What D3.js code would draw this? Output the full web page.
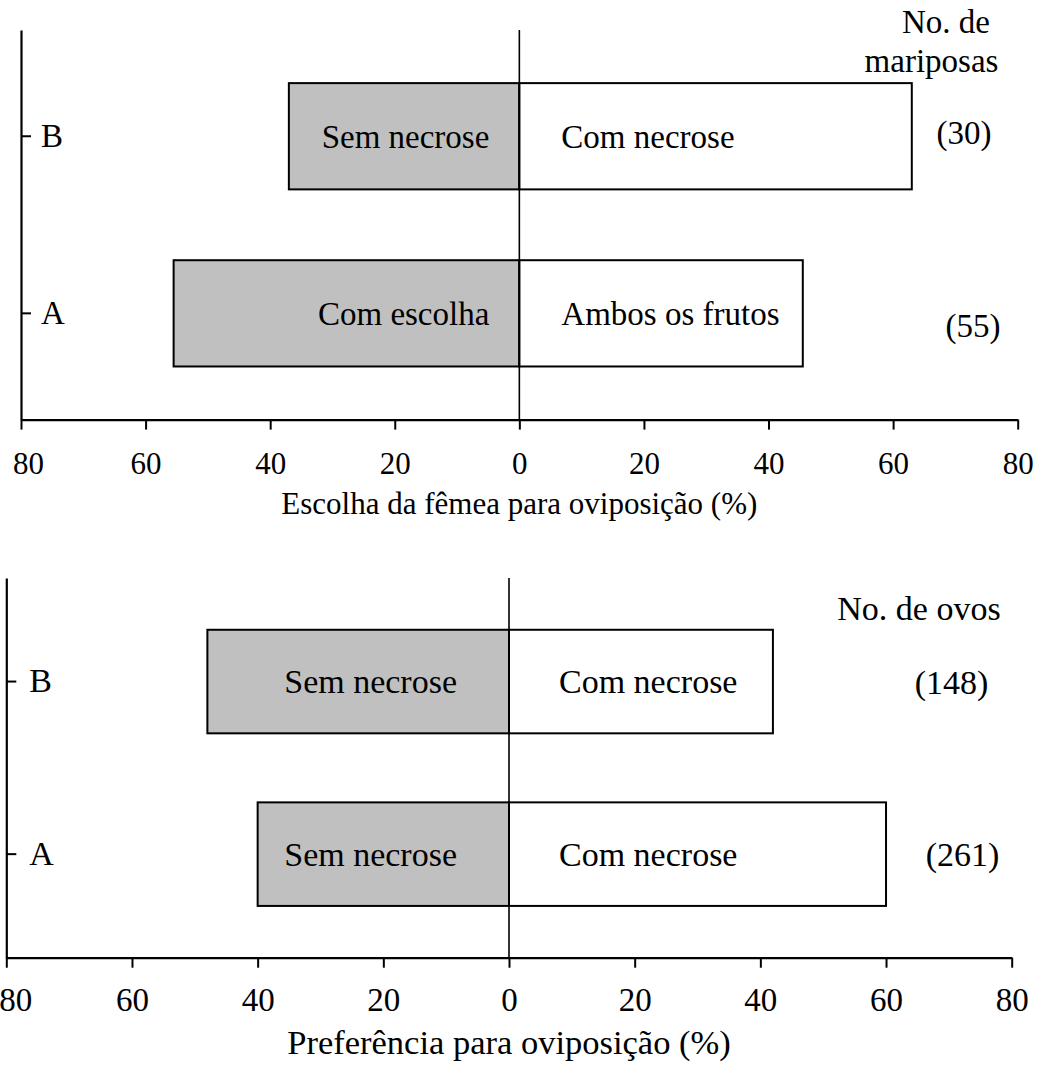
<!DOCTYPE html>
<html><head><meta charset="utf-8">
<script src="https://cdn.jsdelivr.net/npm/d3@7"></script>
<style>
body{margin:0;background:#fff}
svg{display:block}
text{font-family:"Liberation Serif","Times New Roman",serif;fill:#000}
</style>
</head><body><svg id="chart" width="1041" height="1070"></svg>
<script>
// ---- data ----
const categories = ["B", "A"];
const tickValues = [-80, -60, -40, -20, 0, 20, 40, 60, 80];

const topLeftValues = [37, 55.5];
const topRightValues = [63, 45.5];
const topLeftLabels = ["Sem necrose", "Com escolha"];
const topRightLabels = ["Com necrose", "Ambos os frutos"];
const topCounts = ["(30)", "(55)"];
const topHeader = ["No. de", "mariposas"];
const topTitle = "Escolha da fêmea para oviposição (%)";

const bottomLeftValues = [48, 40];
const bottomRightValues = [42, 60];
const bottomLeftLabels = ["Sem necrose", "Sem necrose"];
const bottomRightLabels = ["Com necrose", "Com necrose"];
const bottomCounts = ["(148)", "(261)"];
const bottomHeader = ["No. de ovos"];
const bottomTitle = "Preferência para oviposição (%)";

const svg = d3.select("#chart");

function drawPanel(o) {
  const g = svg.append("g");
  const x = d3.scaleLinear().domain([-80, 80]).range(o.xr);
  const y = d3.scaleBand().domain(categories).range(o.yr).paddingInner(0.4).paddingOuter(0.3);
  const axisY = o.yr[1];
  const bw = y.bandwidth();

  // bars
  g.selectAll("rect.left").data(categories).enter().append("rect")
    .attr("x", (d, i) => x(-o.left[i])).attr("y", d => y(d))
    .attr("width", (d, i) => x(0) - x(-o.left[i])).attr("height", bw)
    .attr("fill", "#c0c0c0").attr("stroke", "#000").attr("stroke-width", 2);
  g.selectAll("rect.right").data(categories).enter().append("rect")
    .attr("x", x(0)).attr("y", d => y(d))
    .attr("width", (d, i) => x(o.right[i]) - x(0)).attr("height", bw)
    .attr("fill", "#fff").attr("stroke", "#000").attr("stroke-width", 2);

  // zero line
  g.append("line").attr("x1", x(0)).attr("x2", x(0)).attr("y1", o.yr[0]).attr("y2", axisY)
    .attr("stroke", "#000").attr("stroke-width", 1.6);

  // x axis
  const xa = d3.axisBottom(x).tickValues(tickValues).tickFormat(d => Math.abs(d))
    .tickSize(10).tickSizeOuter(0).tickPadding(o.tickPad);
  const gx = g.append("g").attr("transform", `translate(0,${axisY})`).call(xa);
  gx.select(".domain").attr("stroke-width", 2.2);
  gx.selectAll(".tick line").attr("stroke-width", 2);
  gx.selectAll(".tick text").attr("font-size", o.tickFs).attr("font-family", null).attr("fill", "#000");
  gx.selectAll(".tick text").filter(d => d === -80).attr("dx", o.firstDx);

  // y axis
  const ya = d3.axisRight(y).tickSize(10).tickSizeOuter(0).tickPadding(o.yPad);
  const gy = g.append("g").attr("transform", `translate(${o.xr[0]},0)`).call(ya);
  gy.select(".domain").attr("stroke-width", 2.2);
  gy.selectAll(".tick line").attr("stroke-width", 2);
  gy.selectAll(".tick text").attr("font-size", o.fs).attr("font-family", null).attr("fill", "#000");

  // bar labels
  g.selectAll("text.ll").data(categories).enter().append("text")
    .attr("x", x(0) - o.lOff).attr("y", d => y(d) + bw / 2).attr("dy", "0.35em")
    .attr("text-anchor", "end").attr("font-size", o.fs)
    .text((d, i) => o.leftLabels[i]);
  g.selectAll("text.rl").data(categories).enter().append("text")
    .attr("x", x(0) + o.rOff).attr("y", d => y(d) + bw / 2).attr("dy", "0.35em")
    .attr("text-anchor", "start").attr("font-size", o.fs)
    .text((d, i) => o.rightLabels[i]);

  // counts
  g.selectAll("text.cnt").data(categories).enter().append("text")
    .attr("x", (d, i) => o.countX[i]).attr("y", (d, i) => y(d) + bw / 2 + o.countDy[i]).attr("dy", "0.35em")
    .attr("text-anchor", "middle").attr("font-size", o.fs)
    .text((d, i) => o.counts[i]);

  // header
  o.header.forEach((h, i) => {
    g.append("text").attr("x", o.headerX[i]).attr("y", o.headerY[i])
      .attr("text-anchor", "middle").attr("font-size", o.fs).text(h);
  });

  // title
  g.append("text").attr("x", x(0)).attr("y", o.titleY).attr("text-anchor", "middle")
    .attr("font-size", o.titleFs).text(o.title);
}

drawPanel({
  xr: [21, 1017.7], yr: [30, 419.6],
  left: topLeftValues, right: topRightValues,
  leftLabels: topLeftLabels, rightLabels: topRightLabels,
  counts: topCounts, countX: [964, 973], countDy: [-4, 12],
  header: topHeader, headerX: [946, 931.5], headerY: [33, 72],
  title: topTitle, titleY: 514,
  fs: 33, tickFs: 31, titleFs: 31, tickPad: 22, yPad: 10, firstDx: 7,
  lOff: 30, rOff: 42
});

drawPanel({
  xr: [6.3, 1011.7], yr: [578, 957.7],
  left: bottomLeftValues, right: bottomRightValues,
  leftLabels: bottomLeftLabels, rightLabels: bottomRightLabels,
  counts: bottomCounts, countX: [951.5, 962.5], countDy: [1, 0],
  header: bottomHeader, headerX: [919], headerY: [620],
  title: bottomTitle, titleY: 1054,
  fs: 34, tickFs: 33, titleFs: 34.5, tickPad: 20, yPad: 13, firstDx: 9,
  lOff: 52, rOff: 50
});
</script>
</body></html>
